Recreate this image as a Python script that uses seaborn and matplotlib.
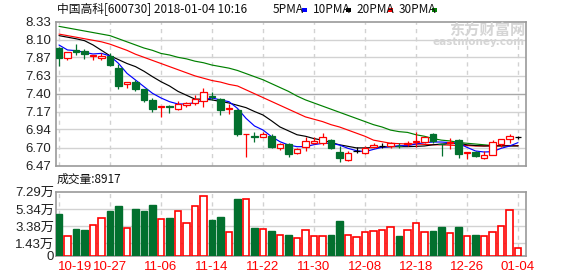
import numpy as np
import pandas as pd
import matplotlib
matplotlib.use("Agg")
import matplotlib.pyplot as plt
import seaborn as sns

# ---------------- data ----------------
dates = ["10-19", "10-27", "11-06", "11-14", "11-22", "11-30", "12-08", "12-18", "12-26", "01-04"]
date_pos = [0, 6, 12, 18, 24, 30, 36, 42, 48, 54]

opens = [7.99, 7.857, 7.965, 7.952, 7.891, 7.866, 7.891, 7.728, 7.525, 7.551,
         7.461, 7.319, 7.224, 7.237, 7.198, 7.25, 7.28, 7.306, 7.37, 7.332,
         7.198, 7.19, 6.875, 6.85, 6.836, 6.854, 6.694, 6.75, 6.634, 6.712,
         6.759, 6.763, 6.802, 6.643, 6.539, 6.66, 6.634, 6.712, 6.724, 6.72,
         6.73, 6.752, 6.772, 6.78, 6.879, 6.755, 6.765, 6.802, 6.640, 6.651,
         6.574, 6.608, 6.755, 6.81, 6.836]
closes = [7.866, 7.934, 7.943, 7.909, 7.904, 7.891, 7.775, 7.504, 7.551, 7.465,
          7.319, 7.207, 7.237, 7.232, 7.271, 7.28, 7.332, 7.422, 7.353, 7.194,
          7.22, 6.88, 6.88, 6.84, 6.875, 6.712, 6.75, 6.621, 6.69, 6.785,
          6.793, 6.836, 6.703, 6.565, 6.638, 6.66, 6.699, 6.733, 6.724, 6.765,
          6.72, 6.757, 6.789, 6.836, 6.793, 6.746, 6.772, 6.617, 6.643, 6.60,
          6.608, 6.772, 6.81, 6.858, 6.836]
highs = [8.00, 7.934, 8.042, 7.973, 7.904, 7.921, 7.921, 7.779, 7.551, 7.577,
         7.461, 7.340, 7.237, 7.254, 7.301, 7.297, 7.383, 7.474, 7.426, 7.349,
         7.263, 7.198, 6.88, 6.901, 6.901, 6.875, 6.768, 6.759, 6.703, 6.836,
         6.845, 6.888, 6.819, 6.729, 6.664, 6.707, 6.724, 6.768, 6.759, 6.775,
         6.759, 6.793, 6.905, 6.836, 6.888, 6.755, 6.823, 6.81, 6.643, 6.655,
         6.664, 6.802, 6.81, 6.875, 6.853]
lows = [7.762, 7.831, 7.904, 7.853, 7.84, 7.84, 7.762, 7.465, 7.478, 7.435,
        7.293, 7.168, 7.103, 7.155, 7.19, 7.224, 7.254, 7.233, 7.314, 7.129,
        7.142, 6.858, 6.578, 6.772, 6.836, 6.703, 6.668, 6.587, 6.621, 6.664,
        6.75, 6.737, 6.69, 6.522, 6.526, 6.63, 6.621, 6.703, 6.694, 6.705,
        6.694, 6.729, 6.716, 6.759, 6.759, 6.60, 6.681, 6.574, 6.552, 6.587,
        6.561, 6.604, 6.716, 6.759, 6.819]

ma5 = [8.029, 7.965, 7.956, 7.934, 7.913, 7.921, 7.887, 7.792, 7.663, 7.577,
       7.491, 7.405, 7.345, 7.297, 7.267, 7.267, 7.284, 7.319, 7.345, 7.319,
       7.297, 7.21, 7.082, 6.983, 6.931, 6.845, 6.78, 6.737, 6.716, 6.716,
       6.742, 6.759, 6.759, 6.737, 6.694, 6.664, 6.651, 6.681, 6.707, 6.716,
       6.729, 6.729, 6.75, 6.768, 6.776, 6.776, 6.768, 6.759, 6.707, 6.66,
       6.647, 6.651, 6.694, 6.724, 6.768]
ma10 = [8.15, 8.13, 8.11, 8.085, 8.03, 7.96, 7.89, 7.84, 7.79, 7.75,
        7.69, 7.62, 7.555, 7.50, 7.43, 7.38, 7.33, 7.33, 7.32, 7.30,
        7.28, 7.25, 7.22, 7.17, 7.125, 7.05, 6.97, 6.92, 6.87, 6.85,
        6.82, 6.80, 6.77, 6.74, 6.72, 6.70, 6.70, 6.705, 6.71, 6.715,
        6.716, 6.716, 6.72, 6.725, 6.74, 6.75, 6.755, 6.76, 6.74, 6.73,
        6.725, 6.725, 6.725, 6.725, 6.725]
ma20 = [8.17, 8.15, 8.13, 8.11, 8.09, 8.07, 8.04, 8.00, 7.96, 7.91,
        7.87, 7.83, 7.79, 7.75, 7.71, 7.67, 7.63, 7.60, 7.57, 7.55,
        7.52, 7.50, 7.45, 7.40, 7.35, 7.30, 7.25, 7.20, 7.15, 7.10,
        7.07, 7.04, 7.00, 6.97, 6.93, 6.89, 6.85, 6.80, 6.78, 6.76,
        6.755, 6.75, 6.75, 6.745, 6.74, 6.74, 6.735, 6.73, 6.73, 6.725,
        6.725, 6.73, 6.73, 6.73, 6.73]
ma30 = [8.27, 8.25, 8.23, 8.21, 8.19, 8.17, 8.15, 8.11, 8.07, 8.03,
        7.99, 7.96, 7.92, 7.90, 7.87, 7.85, 7.82, 7.80, 7.77, 7.75,
        7.73, 7.70, 7.66, 7.62, 7.58, 7.53, 7.48, 7.43, 7.37, 7.32,
        7.28, 7.24, 7.20, 7.16, 7.12, 7.08, 7.04, 7.00, 6.97, 6.93,
        6.91, 6.90, 6.87, 6.85, 6.82, 6.80, 6.79, 6.77, 6.76, 6.75,
        6.74, 6.73, 6.73, 6.73, 6.73]

volume = [4.75, 2.23, 3.06, 2.94, 3.47, 4.26, 5.09, 5.66, 3.13, 5.32,
          5.09, 5.77, 4.15, 4.30, 5.06, 3.70, 5.62, 6.75, 4.08, 4.42,
          2.68, 6.45, 6.42, 3.17, 3.02, 2.83, 2.34, 2.38, 2.04, 2.91,
          2.23, 2.23, 2.38, 3.96, 2.34, 2.11, 2.68, 2.79, 2.91, 3.25,
          2.26, 2.91, 3.70, 2.68, 2.83, 3.28, 2.57, 3.28, 2.23, 2.38,
          2.23, 2.68, 3.36, 5.17, 0.95]
vol_dir = list("GRGGRRGGRGGGRGRRRRGGRGRGRGRGRRRRGGRRRRRRGRRRGGRGRGRRRRR")

price_ticks = [8.33, 8.10, 7.87, 7.63, 7.40, 7.17, 6.94, 6.70, 6.47]
price_labels = ["8.33", "8.10", "7.87", "7.63", "7.40", "7.17", "6.94", "6.70", "6.47"]
vol_ticks = [0, 1.43, 3.38, 5.34, 7.29]
vol_labels = ["0", "1.43万", "3.38万", "5.34万", "7.29万"]

title_text = "中国高科[600730] 2018-01-04 10:16"
vol_title = "成交量:8917"
ma_names = ["5PMA", "10PMA", "20PMA", "30PMA"]

# ---------------- style ----------------
sns.set_theme(style="white")
FAM = ["Liberation Sans", "Noto Sans CJK SC", "DejaVu Sans"]
plt.rcParams["font.family"] = FAM
RED = "#ff0000"
GREEN = "#02702e"
GRID = "#d2d2d2"
FRAME = "#9a9a9a"

W, H = 578, 276
fig = plt.figure(figsize=(W / 100, H / 100), dpi=100)
fig.patch.set_facecolor("white")

def frac(x0, y0, x1, y1):
    return [x0 / W, 1 - y1 / H, (x1 - x0) / W, (y1 - y0) / H]

axp = fig.add_axes(frac(55.5, 21.7, 525.5, 165.7))
axv = fig.add_axes(frac(55.5, 191.7, 525.5, 256.0))

n = len(opens)
idx = np.arange(n)
xlim = (-0.41, 54.88)

# ---- price panel ----
axp.set_xlim(*xlim)
axp.set_ylim(6.47, 8.33)
for t in price_ticks[1:-1]:
    axp.axhline(t, color=("#a8a8a8" if abs(t - 7.40) < 1e-6 else GRID), lw=1, zorder=0)
for p in date_pos:
    axp.axvline(p, color=GRID, lw=1, ls=(0, (3, 3)), zorder=0)

df_ma = pd.DataFrame({"i": idx, "ma5": ma5, "ma10": ma10, "ma20": ma20, "ma30": ma30})
for col, c in [("ma30", "#008000"), ("ma20", RED), ("ma10", "#000000"), ("ma5", "#0000ff")]:
    sns.lineplot(data=df_ma, x="i", y=col, ax=axp, color=c, lw=0.85, zorder=2)

for i in range(n):
    o, c, h, l = opens[i], closes[i], highs[i], lows[i]
    if c > o:
        col, face = RED, "white"
    elif c < o:
        col, face = GREEN, GREEN
    else:
        col, face = "#000000", "#000000"
    axp.vlines(i, l, h, color=col, lw=0.9, zorder=3)
    bot, top = min(o, c), max(o, c)
    hgt = max(top - bot, 0.002)
    axp.bar(i, hgt, bottom=bot, width=0.75, facecolor=face, edgecolor=col, lw=0.9, zorder=4)

axp.set_yticks(price_ticks)
axp.set_yticklabels(price_labels)
axp.set_xticks([])
axp.tick_params(axis="y", length=0, pad=3, labelsize=9.5, labelcolor="#222222")
axp.set_xlabel("")
axp.set_ylabel("")
for s in axp.spines.values():
    s.set_color(FRAME)
    s.set_linewidth(1.2)

# ---- volume panel ----
axv.set_xlim(*xlim)
axv.set_ylim(0, 7.29)
for t in vol_ticks[1:-1]:
    axv.axhline(t, color=GRID, lw=1, zorder=0)
for p in date_pos:
    axv.axvline(p, color=GRID, lw=1, ls=(0, (3, 3)), zorder=0)
for i in range(n):
    if vol_dir[i] == "G":
        axv.bar(i, volume[i], width=0.75, facecolor=GREEN, edgecolor=GREEN, lw=1, zorder=3)
    else:
        axv.bar(i, volume[i], width=0.72, facecolor="white", edgecolor=RED, lw=1.2, zorder=3)
axv.set_yticks(vol_ticks)
axv.set_yticklabels(vol_labels)
axv.set_xticks([])
axv.tick_params(axis="y", length=0, pad=1, labelsize=9.5, labelcolor="#222222")
for s in axv.spines.values():
    s.set_color(FRAME)
    s.set_linewidth(1.2)

# date labels
tr = axv.get_xaxis_transform()
for p, d in zip(date_pos, dates):
    xp = 1.9 if p == 0 else p
    axv.text(xp, -0.17, d, transform=tr, ha="center", va="center", color=RED, fontsize=9.5,
             family=FAM)

# ---- header texts ----
fig.text(57 / W, 1 - 9.5 / H, title_text, ha="left", va="center", fontsize=8.5,
         color="#111111", family=["Noto Sans CJK SC", "DejaVu Sans"])
leg_x = [273, 313, 356, 399]
sq_x = [302, 346, 388, 432]
ma_cols = ["#0000ff", "#000000", RED, "#008000"]
for name, tx, sx, c in zip(ma_names, leg_x, sq_x, ma_cols):
    fig.text(tx / W, 1 - 9.5 / H, name, ha="left", va="center", fontsize=8.5, color="#111111",
             family=["Noto Sans CJK SC", "DejaVu Sans"])
    fig.patches.append(plt.Rectangle((sx / W, 1 - 11.5 / H), 5 / W, 3 / H, transform=fig.transFigure,
                                     facecolor=c, edgecolor="none"))
fig.text(57 / W, 1 - 179.5 / H, vol_title, ha="left", va="center", fontsize=8.5, color="#111111",
         family=["Noto Sans CJK SC", "DejaVu Sans"])

# watermark
fig.text(525 / W, 1 - 30 / H, "东方财富网", ha="right", va="center", fontsize=11, color="#d5d5d5",
         fontweight="bold", family=["Noto Sans CJK SC", "DejaVu Sans"])
fig.text(525 / W, 1 - 42 / H, "eastmoney.com", ha="right", va="center", fontsize=7.5, color="#d5d5d5",
         fontweight="bold", family=["DejaVu Sans"])

fig.savefig("out.png", dpi=100, facecolor="white")
